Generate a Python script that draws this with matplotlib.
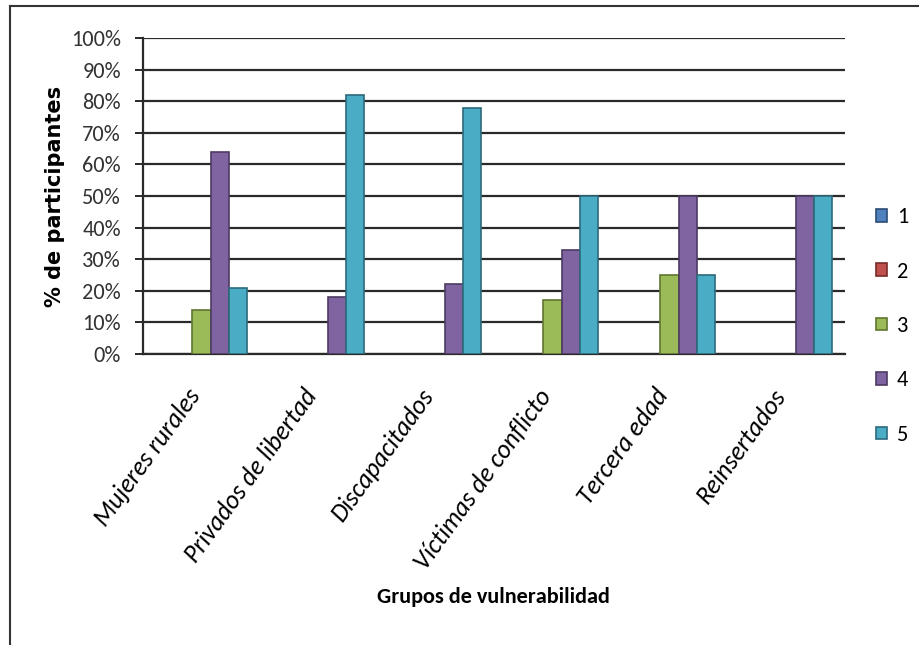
import matplotlib
matplotlib.use("Agg")
import matplotlib.pyplot as plt
import matplotlib.transforms as mtransforms
from matplotlib.lines import Line2D
from matplotlib.patches import Patch
import numpy as np

categories = ["Mujeres rurales", "Privados de libertad", "Discapacitados",
              "Víctimas de conflicto", "Tercera edad", "Reinsertados"]
series_names = ["1", "2", "3", "4", "5"]
s1 = [0, 0, 0, 0, 0, 0]
s2 = [0, 0, 0, 0, 0, 0]
s3 = [14, 0, 0, 17, 25, 0]
s4 = [64, 18, 22, 33, 50, 50]
s5 = [21, 82, 78, 50, 25, 50]
y_ticks = [0, 10, 20, 30, 40, 50, 60, 70, 80, 90, 100]

series = [s1, s2, s3, s4, s5]
colors = ["#4F81BD", "#C0504D", "#9BBB59", "#8064A2", "#4BACC6"]
edges = ["#2C4D75", "#772C2A", "#5F7530", "#4D3B62", "#2C6A7C"]

plt.rcParams['font.family'] = ['Carlito', 'DejaVu Sans']

fig = plt.figure(figsize=(9.19, 6.45), dpi=100)
ax = fig.add_axes([143/919, 1-354/645, (845-143)/919, (354-38)/645])

x = np.arange(len(categories))
w = 0.154
for i, (vals, c, e) in enumerate(zip(series, colors, edges)):
    ecs = [e if v > 0 else 'none' for v in vals]
    ax.bar(x + (i-2)*w, vals, width=w, color=c, edgecolor=ecs, linewidth=1.2, zorder=3)

ax.set_xlim(-0.5, len(categories)-0.5)
ax.set_ylim(0, 100)
ax.set_yticks(y_ticks)
ax.set_yticklabels([f"{t}%" for t in y_ticks], fontsize=16, color="#333333")
ax.yaxis.grid(True, color="#2a2a2a", linewidth=1.6, zorder=0)
ax.set_axisbelow(True)
ax.tick_params(axis='y', length=6, width=1.4, color="#2a2a2a", pad=10)
ax.tick_params(axis='x', length=0, pad=27)
ax.set_xticks(x)
ax.set_xticklabels(categories, rotation=54, ha='right', va='center', rotation_mode='anchor',
                   fontsize=18.5, style='italic')
offset = mtransforms.ScaledTranslation(-6/100, 0, fig.dpi_scale_trans)
for lbl in ax.get_xticklabels():
    lbl.set_transform(lbl.get_transform() + offset)
for s in ['top', 'right']:
    ax.spines[s].set_visible(False)
for s in ['left', 'bottom']:
    ax.spines[s].set_color("#2a2a2a")
    ax.spines[s].set_linewidth(1.6)

ax.set_ylabel("% de participantes", fontsize=15, fontweight='bold',
              family=['DejaVu Sans'], labelpad=4)
fig.text(493/919, 1-597/645, "Grupos de vulnerabilidad", ha='center', va='center',
         fontsize=16, fontweight='bold')

handles = [Patch(facecolor=c, edgecolor=e, linewidth=1.2) for c, e in zip(colors, edges)]
fig.legend(handles, series_names, loc='center left', bbox_to_anchor=(876/919, 1-326/645),
           frameon=False, fontsize=16, handlelength=0.5, handleheight=0.5,
           handletextpad=0.45, labelspacing=1.55, borderpad=0, borderaxespad=0)

# outer chart border
fig.add_artist(Line2D([10/919, 10/919], [0, 1-6/645], color="#333333", linewidth=1.5))
fig.add_artist(Line2D([10/919, 1], [1-6/645, 1-6/645], color="#333333", linewidth=1.5))

fig.savefig("out.png", dpi=100)
